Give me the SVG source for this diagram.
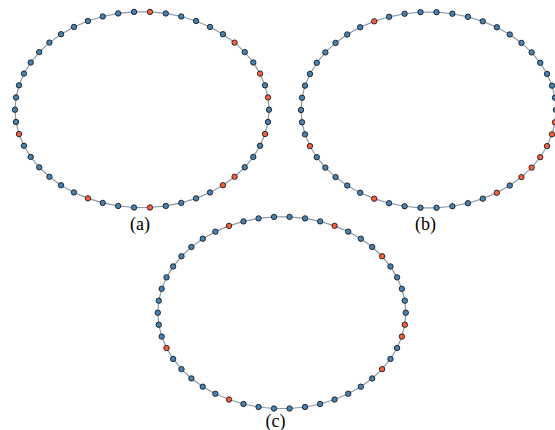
<svg xmlns="http://www.w3.org/2000/svg" width="555" height="430" viewBox="0 0 555 430">
<style>
.e{fill:none;stroke:#8c9bab;stroke-width:1.2}
circle{r:2.7px;stroke:#1a1a1a;stroke-width:0.9}
.b circle{fill:#4682b4}
.r circle{fill:#f5603f}
.lbl{font-family:"Liberation Serif","DejaVu Serif",serif;font-size:18px;fill:#000;text-anchor:middle}
</style>
<rect width="555" height="430" fill="#fff"/>
<g id="connectors">
<polygon class="e" points="15,109.7 16,97.42 18.99,85.33 23.92,73.62 30.71,62.49 39.25,52.1 49.42,42.61 61.05,34.19 73.95,26.96 87.93,21.03 102.75,16.5 118.2,13.44 134.03,11.89 149.97,11.89 165.8,13.44 181.25,16.5 196.07,21.03 210.05,26.96 222.95,34.19 234.58,42.61 244.75,52.1 253.29,62.49 260.08,73.62 265.01,85.33 268,97.42 269,109.7 268,121.98 265.01,134.07 260.08,145.78 253.29,156.91 244.75,167.3 234.58,176.79 222.95,185.21 210.05,192.44 196.07,198.37 181.25,202.9 165.8,205.96 149.97,207.51 134.03,207.51 118.2,205.96 102.75,202.9 87.93,198.37 73.95,192.44 61.05,185.21 49.42,176.79 39.25,167.3 30.71,156.91 23.92,145.78 18.99,134.07 16,121.98"/>
<polygon class="e" points="301,110 302.01,97.72 305.01,85.63 309.95,73.92 316.77,62.79 325.35,52.4 335.56,42.91 347.23,34.49 360.18,27.26 374.21,21.33 389.1,16.8 404.61,13.74 420.49,12.19 436.51,12.19 452.39,13.74 467.9,16.8 482.79,21.33 496.82,27.26 509.77,34.49 521.44,42.91 531.65,52.4 540.23,62.79 547.05,73.92 551.99,85.63 554.99,97.72 556,110 554.99,122.28 551.99,134.37 547.05,146.08 540.23,157.21 531.65,167.6 521.44,177.09 509.77,185.51 496.82,192.74 482.79,198.67 467.9,203.2 452.39,206.26 436.51,207.81 420.49,207.81 404.61,206.26 389.1,203.2 374.21,198.67 360.18,192.74 347.23,185.51 335.56,177.09 325.35,167.6 316.77,157.21 309.95,146.08 305.01,134.37 302.01,122.28"/>
<polygon class="e" points="157.8,312.7 158.78,300.67 161.7,288.83 166.51,277.36 173.14,266.45 181.48,256.27 191.41,246.98 202.76,238.73 215.36,231.64 229,225.84 243.48,221.4 258.56,218.4 274.01,216.89 289.59,216.89 305.04,218.4 320.12,221.4 334.6,225.84 348.24,231.64 360.84,238.73 372.19,246.98 382.12,256.27 390.46,266.45 397.09,277.36 401.9,288.83 404.82,300.67 405.8,312.7 404.82,324.73 401.9,336.57 397.09,348.04 390.46,358.95 382.12,369.13 372.19,378.42 360.84,386.67 348.24,393.76 334.6,399.56 320.12,404 305.04,407 289.59,408.51 274.01,408.51 258.56,407 243.48,404 229,399.56 215.36,393.76 202.76,386.67 191.41,378.42 181.48,369.13 173.14,358.95 166.51,348.04 161.7,336.57 158.78,324.73"/>
</g>
<g id="graph-a">
<g id="a0" class="b"><circle cx="15" cy="109.7"/></g>
<g id="a1" class="b"><circle cx="16" cy="97.42"/></g>
<g id="a2" class="b"><circle cx="18.99" cy="85.33"/></g>
<g id="a3" class="b"><circle cx="23.92" cy="73.62"/></g>
<g id="a4" class="b"><circle cx="30.71" cy="62.49"/></g>
<g id="a5" class="b"><circle cx="39.25" cy="52.1"/></g>
<g id="a6" class="b"><circle cx="49.42" cy="42.61"/></g>
<g id="a7" class="b"><circle cx="61.05" cy="34.19"/></g>
<g id="a8" class="b"><circle cx="73.95" cy="26.96"/></g>
<g id="a9" class="b"><circle cx="87.93" cy="21.03"/></g>
<g id="a10" class="b"><circle cx="102.75" cy="16.5"/></g>
<g id="a11" class="b"><circle cx="118.2" cy="13.44"/></g>
<g id="a12" class="b"><circle cx="134.03" cy="11.89"/></g>
<g id="a13" class="r"><circle cx="149.97" cy="11.89"/></g>
<g id="a14" class="b"><circle cx="165.8" cy="13.44"/></g>
<g id="a15" class="b"><circle cx="181.25" cy="16.5"/></g>
<g id="a16" class="b"><circle cx="196.07" cy="21.03"/></g>
<g id="a17" class="b"><circle cx="210.05" cy="26.96"/></g>
<g id="a18" class="b"><circle cx="222.95" cy="34.19"/></g>
<g id="a19" class="r"><circle cx="234.58" cy="42.61"/></g>
<g id="a20" class="b"><circle cx="244.75" cy="52.1"/></g>
<g id="a21" class="b"><circle cx="253.29" cy="62.49"/></g>
<g id="a22" class="r"><circle cx="260.08" cy="73.62"/></g>
<g id="a23" class="b"><circle cx="265.01" cy="85.33"/></g>
<g id="a24" class="r"><circle cx="268" cy="97.42"/></g>
<g id="a25" class="b"><circle cx="269" cy="109.7"/></g>
<g id="a26" class="b"><circle cx="268" cy="121.98"/></g>
<g id="a27" class="r"><circle cx="265.01" cy="134.07"/></g>
<g id="a28" class="b"><circle cx="260.08" cy="145.78"/></g>
<g id="a29" class="b"><circle cx="253.29" cy="156.91"/></g>
<g id="a30" class="b"><circle cx="244.75" cy="167.3"/></g>
<g id="a31" class="r"><circle cx="234.58" cy="176.79"/></g>
<g id="a32" class="r"><circle cx="222.95" cy="185.21"/></g>
<g id="a33" class="b"><circle cx="210.05" cy="192.44"/></g>
<g id="a34" class="b"><circle cx="196.07" cy="198.37"/></g>
<g id="a35" class="b"><circle cx="181.25" cy="202.9"/></g>
<g id="a36" class="b"><circle cx="165.8" cy="205.96"/></g>
<g id="a37" class="r"><circle cx="149.97" cy="207.51"/></g>
<g id="a38" class="b"><circle cx="134.03" cy="207.51"/></g>
<g id="a39" class="b"><circle cx="118.2" cy="205.96"/></g>
<g id="a40" class="b"><circle cx="102.75" cy="202.9"/></g>
<g id="a41" class="r"><circle cx="87.93" cy="198.37"/></g>
<g id="a42" class="b"><circle cx="73.95" cy="192.44"/></g>
<g id="a43" class="b"><circle cx="61.05" cy="185.21"/></g>
<g id="a44" class="b"><circle cx="49.42" cy="176.79"/></g>
<g id="a45" class="b"><circle cx="39.25" cy="167.3"/></g>
<g id="a46" class="b"><circle cx="30.71" cy="156.91"/></g>
<g id="a47" class="b"><circle cx="23.92" cy="145.78"/></g>
<g id="a48" class="r"><circle cx="18.99" cy="134.07"/></g>
<g id="a49" class="b"><circle cx="16" cy="121.98"/></g>
</g>
<g id="graph-b">
<g id="b0" class="b"><circle cx="301" cy="110"/></g>
<g id="b1" class="b"><circle cx="302.01" cy="97.72"/></g>
<g id="b2" class="b"><circle cx="305.01" cy="85.63"/></g>
<g id="b3" class="b"><circle cx="309.95" cy="73.92"/></g>
<g id="b4" class="b"><circle cx="316.77" cy="62.79"/></g>
<g id="b5" class="b"><circle cx="325.35" cy="52.4"/></g>
<g id="b6" class="b"><circle cx="335.56" cy="42.91"/></g>
<g id="b7" class="b"><circle cx="347.23" cy="34.49"/></g>
<g id="b8" class="b"><circle cx="360.18" cy="27.26"/></g>
<g id="b9" class="r"><circle cx="374.21" cy="21.33"/></g>
<g id="b10" class="b"><circle cx="389.1" cy="16.8"/></g>
<g id="b11" class="b"><circle cx="404.61" cy="13.74"/></g>
<g id="b12" class="b"><circle cx="420.49" cy="12.19"/></g>
<g id="b13" class="b"><circle cx="436.51" cy="12.19"/></g>
<g id="b14" class="b"><circle cx="452.39" cy="13.74"/></g>
<g id="b15" class="b"><circle cx="467.9" cy="16.8"/></g>
<g id="b16" class="b"><circle cx="482.79" cy="21.33"/></g>
<g id="b17" class="b"><circle cx="496.82" cy="27.26"/></g>
<g id="b18" class="b"><circle cx="509.77" cy="34.49"/></g>
<g id="b19" class="b"><circle cx="521.44" cy="42.91"/></g>
<g id="b20" class="b"><circle cx="531.65" cy="52.4"/></g>
<g id="b21" class="b"><circle cx="540.23" cy="62.79"/></g>
<g id="b22" class="b"><circle cx="547.05" cy="73.92"/></g>
<g id="b23" class="b"><circle cx="551.99" cy="85.63"/></g>
<g id="b24" class="b"><circle cx="554.99" cy="97.72"/></g>
<g id="b25" class="b"><circle cx="556" cy="110"/></g>
<g id="b26" class="r"><circle cx="554.99" cy="122.28"/></g>
<g id="b27" class="r"><circle cx="551.99" cy="134.37"/></g>
<g id="b28" class="r"><circle cx="547.05" cy="146.08"/></g>
<g id="b29" class="r"><circle cx="540.23" cy="157.21"/></g>
<g id="b30" class="r"><circle cx="531.65" cy="167.6"/></g>
<g id="b31" class="r"><circle cx="521.44" cy="177.09"/></g>
<g id="b32" class="b"><circle cx="509.77" cy="185.51"/></g>
<g id="b33" class="r"><circle cx="496.82" cy="192.74"/></g>
<g id="b34" class="b"><circle cx="482.79" cy="198.67"/></g>
<g id="b35" class="b"><circle cx="467.9" cy="203.2"/></g>
<g id="b36" class="b"><circle cx="452.39" cy="206.26"/></g>
<g id="b37" class="b"><circle cx="436.51" cy="207.81"/></g>
<g id="b38" class="b"><circle cx="420.49" cy="207.81"/></g>
<g id="b39" class="b"><circle cx="404.61" cy="206.26"/></g>
<g id="b40" class="b"><circle cx="389.1" cy="203.2"/></g>
<g id="b41" class="r"><circle cx="374.21" cy="198.67"/></g>
<g id="b42" class="b"><circle cx="360.18" cy="192.74"/></g>
<g id="b43" class="b"><circle cx="347.23" cy="185.51"/></g>
<g id="b44" class="b"><circle cx="335.56" cy="177.09"/></g>
<g id="b45" class="b"><circle cx="325.35" cy="167.6"/></g>
<g id="b46" class="b"><circle cx="316.77" cy="157.21"/></g>
<g id="b47" class="r"><circle cx="309.95" cy="146.08"/></g>
<g id="b48" class="b"><circle cx="305.01" cy="134.37"/></g>
<g id="b49" class="b"><circle cx="302.01" cy="122.28"/></g>
</g>
<g id="graph-c">
<g id="c0" class="b"><circle cx="157.8" cy="312.7"/></g>
<g id="c1" class="b"><circle cx="158.78" cy="300.67"/></g>
<g id="c2" class="b"><circle cx="161.7" cy="288.83"/></g>
<g id="c3" class="b"><circle cx="166.51" cy="277.36"/></g>
<g id="c4" class="b"><circle cx="173.14" cy="266.45"/></g>
<g id="c5" class="b"><circle cx="181.48" cy="256.27"/></g>
<g id="c6" class="b"><circle cx="191.41" cy="246.98"/></g>
<g id="c7" class="b"><circle cx="202.76" cy="238.73"/></g>
<g id="c8" class="b"><circle cx="215.36" cy="231.64"/></g>
<g id="c9" class="r"><circle cx="229" cy="225.84"/></g>
<g id="c10" class="b"><circle cx="243.48" cy="221.4"/></g>
<g id="c11" class="b"><circle cx="258.56" cy="218.4"/></g>
<g id="c12" class="b"><circle cx="274.01" cy="216.89"/></g>
<g id="c13" class="b"><circle cx="289.59" cy="216.89"/></g>
<g id="c14" class="b"><circle cx="305.04" cy="218.4"/></g>
<g id="c15" class="b"><circle cx="320.12" cy="221.4"/></g>
<g id="c16" class="r"><circle cx="334.6" cy="225.84"/></g>
<g id="c17" class="b"><circle cx="348.24" cy="231.64"/></g>
<g id="c18" class="b"><circle cx="360.84" cy="238.73"/></g>
<g id="c19" class="b"><circle cx="372.19" cy="246.98"/></g>
<g id="c20" class="r"><circle cx="382.12" cy="256.27"/></g>
<g id="c21" class="b"><circle cx="390.46" cy="266.45"/></g>
<g id="c22" class="b"><circle cx="397.09" cy="277.36"/></g>
<g id="c23" class="b"><circle cx="401.9" cy="288.83"/></g>
<g id="c24" class="b"><circle cx="404.82" cy="300.67"/></g>
<g id="c25" class="b"><circle cx="405.8" cy="312.7"/></g>
<g id="c26" class="r"><circle cx="404.82" cy="324.73"/></g>
<g id="c27" class="r"><circle cx="401.9" cy="336.57"/></g>
<g id="c28" class="b"><circle cx="397.09" cy="348.04"/></g>
<g id="c29" class="b"><circle cx="390.46" cy="358.95"/></g>
<g id="c30" class="r"><circle cx="382.12" cy="369.13"/></g>
<g id="c31" class="b"><circle cx="372.19" cy="378.42"/></g>
<g id="c32" class="b"><circle cx="360.84" cy="386.67"/></g>
<g id="c33" class="b"><circle cx="348.24" cy="393.76"/></g>
<g id="c34" class="b"><circle cx="334.6" cy="399.56"/></g>
<g id="c35" class="b"><circle cx="320.12" cy="404"/></g>
<g id="c36" class="b"><circle cx="305.04" cy="407"/></g>
<g id="c37" class="b"><circle cx="289.59" cy="408.51"/></g>
<g id="c38" class="b"><circle cx="274.01" cy="408.51"/></g>
<g id="c39" class="b"><circle cx="258.56" cy="407"/></g>
<g id="c40" class="b"><circle cx="243.48" cy="404"/></g>
<g id="c41" class="r"><circle cx="229" cy="399.56"/></g>
<g id="c42" class="b"><circle cx="215.36" cy="393.76"/></g>
<g id="c43" class="b"><circle cx="202.76" cy="386.67"/></g>
<g id="c44" class="b"><circle cx="191.41" cy="378.42"/></g>
<g id="c45" class="b"><circle cx="181.48" cy="369.13"/></g>
<g id="c46" class="b"><circle cx="173.14" cy="358.95"/></g>
<g id="c47" class="r"><circle cx="166.51" cy="348.04"/></g>
<g id="c48" class="b"><circle cx="161.7" cy="336.57"/></g>
<g id="c49" class="b"><circle cx="158.78" cy="324.73"/></g>
</g>
<g id="labels">
<text class="lbl" x="140" y="229.5">(a)</text>
<text class="lbl" x="425.5" y="229.5">(b)</text>
<text class="lbl" x="275.5" y="426.5">(c)</text>
</g>
</svg>
